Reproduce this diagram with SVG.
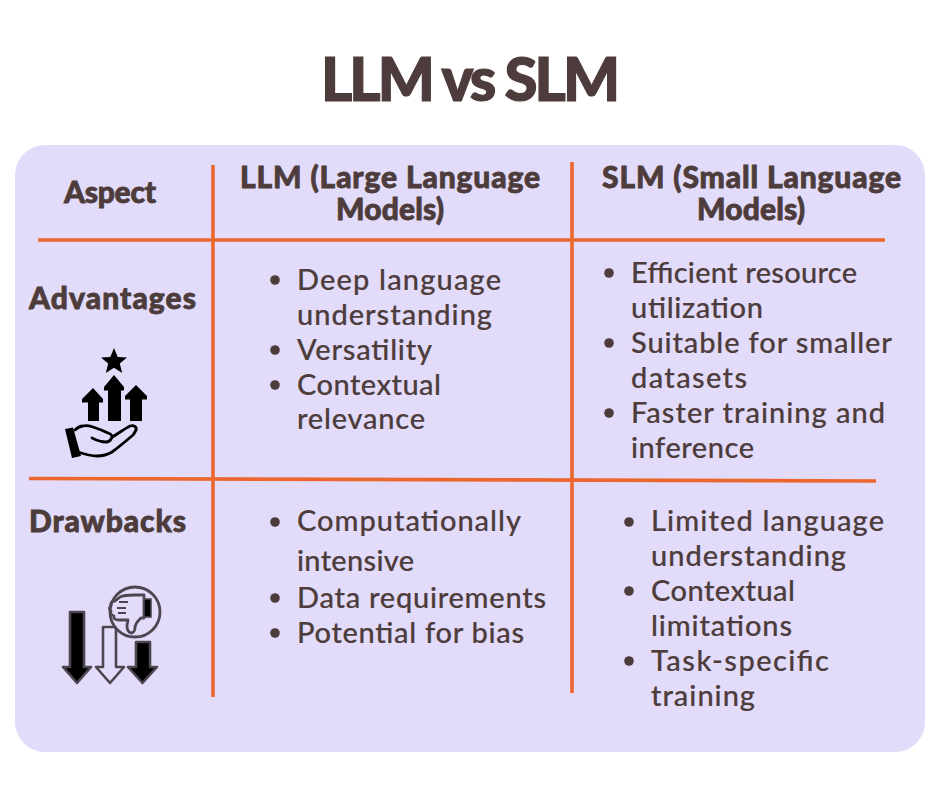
<svg xmlns="http://www.w3.org/2000/svg" width="940" height="788" viewBox="0 0 940 788">
<style>
text{font-family:"Lato","Liberation Sans",sans-serif;fill:#4d3c3b}
.t{font-size:60px;font-weight:900;stroke:#4d3c3b;stroke-width:1.200}
.h{font-size:30px;font-weight:900;stroke:#4d3c3b;stroke-width:.8}
.b{font-size:29px;font-weight:500;stroke:#4d3c3b;stroke-width:.2}
.ln{stroke:#ec672d;stroke-width:3.6;fill:none}
.dot{fill:#4d3c3b}
.k{fill:#000}
.ar{fill:#000;stroke:#4d4650;stroke-width:2.600;stroke-linejoin:round}
.hd{fill:none;stroke:#000;stroke-width:2.800;stroke-linejoin:round;stroke-linecap:round}
</style>
<rect width="940" height="788" fill="#fff"/>
<rect id="panel" x="15" y="145" width="910" height="607" rx="30" fill="#e2dcfa"/>
<g id="title"><text class="t" x="321" y="101" textLength="299">LLM vs SLM</text></g>
<g id="connectors">
<path class="ln" d="M38 240H885"/>
<path class="ln" d="M29 478.500L876 481"/>
<path class="ln" d="M213 165V697"/>
<path class="ln" d="M572 162V693"/>
</g>
<g id="header-aspect"><text class="h" x="64" y="203" textLength="92">Aspect</text></g>
<g id="header-llm"><text class="h" x="240" y="188" textLength="300">LLM (Large Language</text><text class="h" x="336" y="220" textLength="108">Models)</text></g>
<g id="header-slm"><text class="h" x="602" y="188" textLength="299">SLM (Small Language</text><text class="h" x="697" y="220" textLength="108">Models)</text></g>
<g id="row-advantages"><text class="h" x="29" y="309" textLength="167">Advantages</text>
<g id="icon-advantages">
<path class="k" d="M114 348l3.700 9 9.300.6-7.200 6 2.400 9.400-8.200-5.200-8.200 5.200 2.400-9.400-7.200-6 9.300-.6z"/>
<path class="k" d="M114 375l10 12v3.500h-3V421h-13v-30.500h-4V387z"/>
<path class="k" d="M93 388l10 11v3.500h-4V421H88v-18.500h-6V399z"/>
<path class="k" d="M136 385l11 11v3.500h-5V421h-12v-21.500h-5V396z"/>
<path class="k" d="M65 429l8-1.500 8 28.500-9 2z"/>
<path class="hd" d="M75 430c3-3 5-4 8-4 4-1 7 0 10 1 6 2 11 4 15 6 4 1 5 4 3 6-1 2-3 3-5 3-5 0-10-2-14-4M112 437c6-3 12-8 18-11 4-1 7 1 6 4-1 2-2 4-3 5-7 6-14 12-21 17-5 3-10 4-15 4-6 0-13-2-19-4"/>
</g></g>
<g id="row-drawbacks"><text class="h" x="29" y="532" textLength="157">Drawbacks</text>
<g id="icon-drawbacks">
<path class="ar" d="M70 612h14v55h7l-14 16-14-16h7z"/>
<path fill="#e2dcfa" stroke="#4d4650" stroke-width="2.600" stroke-linejoin="round" d="M103 627h13v40h8l-14 16-14-16h7z"/>
<path class="ar" d="M136 642h14v25h7l-14.500 16-14.500-16h8z"/>
<circle cx="135" cy="612" r="25" fill="#e2dcfa" stroke="#4d4650" stroke-width="2.800"/>
<path d="M120 597c4-2 9-2 14-2h10v23h-3c-3 3-6 5-6 10 0 3-2 5-4 5-3-1-4-4-4-7 0-2 1-4 1-6h-9c-3 0-6-1-5-4-3-1-4-3-3-5-2-1-2-4 0-5-1-3 1-5 4-5z" fill="none" stroke="#4d4650" stroke-width="2.800" stroke-linejoin="round"/>
<path d="M119 602h9M117 608h9M118 613h8" fill="none" stroke="#4d4650" stroke-width="2"/>
<rect x="144" y="599" width="7" height="18" fill="#000" stroke="#4d4650" stroke-width="1.600"/>
</g></g>
<g id="cell-llm-advantages">
<circle class="dot" cx="275" cy="280" r="4.800"/><circle class="dot" cx="275" cy="350" r="4.800"/><circle class="dot" cx="275" cy="385" r="4.800"/>
<text class="b" x="297" y="290" textLength="204">Deep language</text>
<text class="b" x="297" y="325" textLength="195">understanding</text>
<text class="b" x="297" y="360" textLength="135">Versatility</text>
<text class="b" x="297" y="395" textLength="144">Contextual</text>
<text class="b" x="297" y="429" textLength="128">relevance</text>
</g>
<g id="cell-slm-advantages">
<circle class="dot" cx="609" cy="273" r="4.800"/><circle class="dot" cx="609" cy="343" r="4.800"/><circle class="dot" cx="609" cy="413" r="4.800"/>
<text class="b" x="631" y="283" textLength="226">Efficient resource</text>
<text class="b" x="631" y="318" textLength="132">utilization</text>
<text class="b" x="631" y="353" textLength="261">Suitable for smaller</text>
<text class="b" x="631" y="388" textLength="116">datasets</text>
<text class="b" x="631" y="423" textLength="254">Faster training and</text>
<text class="b" x="631" y="458" textLength="123">inference</text>
</g>
<g id="cell-llm-drawbacks">
<circle class="dot" cx="275" cy="522" r="4.800"/><circle class="dot" cx="275" cy="598" r="4.800"/><circle class="dot" cx="275" cy="633" r="4.800"/>
<text class="b" x="297" y="531" textLength="224">Computationally</text>
<text class="b" x="297" y="571" textLength="117">intensive</text>
<text class="b" x="297" y="608" textLength="249">Data requirements</text>
<text class="b" x="297" y="643" textLength="227">Potential for bias</text>
</g>
<g id="cell-slm-drawbacks">
<circle class="dot" cx="629" cy="522" r="4.800"/><circle class="dot" cx="629" cy="591" r="4.800"/><circle class="dot" cx="629" cy="661" r="4.800"/>
<text class="b" x="651" y="531" textLength="233">Limited language</text>
<text class="b" x="651" y="566" textLength="195">understanding</text>
<text class="b" x="651" y="601" textLength="144">Contextual</text>
<text class="b" x="651" y="636" textLength="141">limitations</text>
<text class="b" x="651" y="671" textLength="178">Task-specific</text>
<text class="b" x="651" y="706" textLength="104">training</text>
</g>
</svg>
